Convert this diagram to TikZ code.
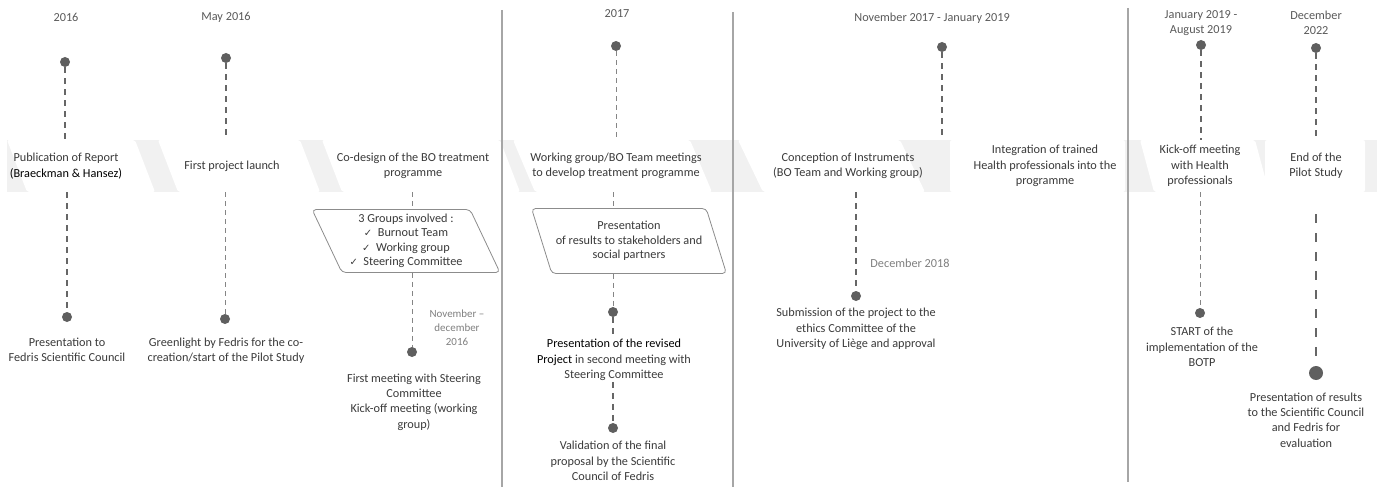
\documentclass[tikz,border=0pt]{standalone}
\usepackage{fontspec}
\setmainfont{Carlito}
\newfontfamily\symbfont{DejaVu Sans}
\usepackage{tikz}
\usetikzlibrary{arrows.meta,positioning,calc,shapes.geometric}
\definecolor{DotGray}{HTML}{5F5F5F}
\definecolor{LineGray}{HTML}{666666}
\definecolor{TextGray}{HTML}{3A3A3A}
\definecolor{DateGray}{HTML}{595959}
\definecolor{NoteGray}{HTML}{7F7F7F}
\definecolor{BandGray}{HTML}{F1F1F1}
\definecolor{RuleGray}{HTML}{A6A6A6}
\definecolor{BoxEdge}{HTML}{8C8C8C}
\newcommand{\chk}{{\symbfont\fontsize{10}{10}\selectfont ✓}}

\begin{document}
\begin{tikzpicture}[
    x=1bp, y=-1bp,
    font=\fontsize{12.3}{15.5}\selectfont,
    dot/.style={
      circle,
      fill=DotGray,
      inner sep=0pt,
      minimum size=10bp
    },
    bigdot/.style={dot, minimum size=14bp},
    stage/.style={
      align=center,
      text=TextGray,
      minimum height=52bp,
      inner sep=0pt
    },
    date/.style={align=center, text=DateGray},
    evtext/.style={align=center, text=TextGray, inner sep=1pt},
    note/.style={align=center, text=NoteGray},
    callout/.style={
      trapezium,
      trapezium left angle=116,
      trapezium right angle=64,
      trapezium stretches=true,
      draw=BoxEdge,
      line width=0.8bp,
      rounded corners=4pt,
      fill=white,
      align=center,
      text=TextGray,
      inner sep=0pt,
      font=\fontsize{12.3}{14.5}\selectfont
    },
    dline/.style={
      line width=1.8bp,
      dash pattern=on 6bp off 5bp,
      color=LineGray
    },
    tline/.style={
      line width=0.8bp,
      dash pattern=on 5bp off 4bp,
      color=LineGray!80
    },
    rule/.style={line width=1.8bp, color=RuleGray}
  ]

  \useasboundingbox (0,0) rectangle (1377,487);

  % Background band with the white stage boxes
  \fill[BandGray] (7,140) rectangle (1377,192);
  \foreach \a/\b/\s in {7/135/20, 158/300/20, 322/500/20, 513/690/22,
                        738/900/25, 950/1125/0, 1140/1255/14, 1265/1365/0}
    \fill[white, rounded corners=2bp] (\a,140) -- (\b,140) -- (\b+\s,192)
      -- (\a+\s,192) -- cycle;

  % Phase separators
  \draw[rule] (502,10) -- (502,487);
  \draw[rule] (733,12) -- (733,487);
  \draw[rule] (1128,8) -- (1128,482);

  % Dates
  \node[date] (d2016) at (66,17)   {2016};
  \node[date] (dmay)  at (226,17)  {May 2016};
  \node[date] (d2017) at (617,14)  {2017};
  \node[date] (dnov)  at (932,18)  {November 2017 - January 2019};
  \node[date] (djan)  at (1201,23) {January 2019 -\\August 2019};
  \node[date] (ddec)  at (1316,23) {December\\2022};

  % Stages on the band
  \node[stage] (s1) at (66,166)   {Publication of Report\\{\color{black}(Braeckman \& Hansez)}};
  \node[stage] (s2) at (232,166)  {First project launch};
  \node[stage] (s3) at (413,166)  {Co-design of the BO treatment\\programme};
  \node[stage] (s4) at (616,166)  {Working group/BO Team meetings\\to develop treatment programme};
  \node[stage] (s5) at (848,166)  {Conception of Instruments\\(BO Team and Working group)};
  \node[stage] (s6) at (1045,166) {Integration of trained\\Health professionals into the\\programme};
  \node[stage] (s7) at (1200,166) {Kick-off meeting\\with Health\\professionals};
  \node[stage] (s8) at (1316,166) {End of the\\Pilot Study};

  % Top dots
  \node[dot] (t1) at (65,62)   {};
  \node[dot] (t2) at (226,58)  {};
  \node[dot] (t4) at (616,46)  {};
  \node[dot] (t5) at (942,47)  {};
  \node[dot] (t7) at (1201,45) {};
  \node[dot] (t8) at (1316,48) {};

  % Callouts below the band
  \node[callout, minimum width=188bp, minimum height=63bp] (grp) at (406,241)
    {3 Groups involved :\\\chk\ \ Burnout Team\\\chk\ \ Working group\\\chk\ \ Steering Committee};
  \node[callout, minimum width=195bp, minimum height=65bp] (pres) at (629,241)
    {Presentation\\of results to stakeholders and\\social partners};

  % Bottom dots
  \node[dot] (b1)  at (67,317)  {};
  \node[dot] (b2)  at (225,319) {};
  \node[dot] (b3)  at (412,352) {};
  \node[dot] (b4a) at (613,312) {};
  \node[dot] (b4b) at (613,428) {};
  \node[dot] (b5)  at (856,296) {};
  \node[dot] (b7)  at (1200,313) {};
  \node[bigdot] (b8) at (1316,373) {};

  % Event descriptions
  \node[evtext] (l1)  at (67,350)   {Presentation to\\Fedris Scientific Council};
  \node[evtext] (l2)  at (226,351)  {Greenlight by Fedris for the co-\\creation/start of the Pilot Study};
  \node[evtext] (l3)  at (414,402)  {First meeting with Steering\\Committee\\Kick-off meeting (working\\group)};
  \node[evtext] (l4a) at (614,360)  {{\color{black}Presentation of the revised}\\{\color{black}Project} in second meeting with\\Steering Committee};
  \node[evtext] (l4b) at (613,461)  {Validation of the final\\proposal by the Scientific\\Council of Fedris};
  \node[evtext] (l5)  at (856,329)  {Submission of the project to the\\ethics Committee of the\\University of Liège and approval};
  \node[evtext] (l7)  at (1202,347) {START of the\\implementation of the\\BOTP};
  \node[evtext] (l8)  at (1306,420) {Presentation of results\\to the Scientific Council\\and Fedris for\\evaluation};
  \node[note, font=\fontsize{11}{14}\selectfont] (n3) at (457,328) {November –\\december\\2016};
  \node[note] (n5) at (910,263) {December 2018};

  % Dashed connectors
  \draw[dline] (t1) -- (t1 |- s1.north);
  \draw[dline] (b1 |- s1.south) -- (b1);
  \draw[dline] (t2) -- (t2 |- s2.north);
  \draw[tline] (b2 |- s2.south) -- (b2);
  \draw[tline] (b3 |- s3.south) -- (b3 |- grp.north);
  \draw[tline] (b3 |- grp.south) -- (b3);
  \draw[tline] (t4) -- (t4 |- s4.north);
  \draw[tline] (b4a |- s4.south) -- (b4a |- pres.north);
  \draw[tline] (b4a |- pres.south) -- (b4a);
  \draw[dline] (b4a) -- (b4a |- l4a.north);
  \draw[dline] (b4a |- l4a.south) -- (b4b);
  \draw[dline] (t5) -- (t5 |- s5.north);
  \draw[dline] (b5 |- s5.south) -- (b5);
  \draw[dline] (t7) -- (t7 |- s7.north);
  \draw[tline] (b7 |- s7.south) -- (b7);
  \draw[dline] (t8) -- (t8 |- s8.north);
  \draw[dline, line width=2.6bp, dash pattern=on 9bp off 10bp, shorten <=22bp]
    (s8.south) -- (b8);

\end{tikzpicture}
\end{document}
